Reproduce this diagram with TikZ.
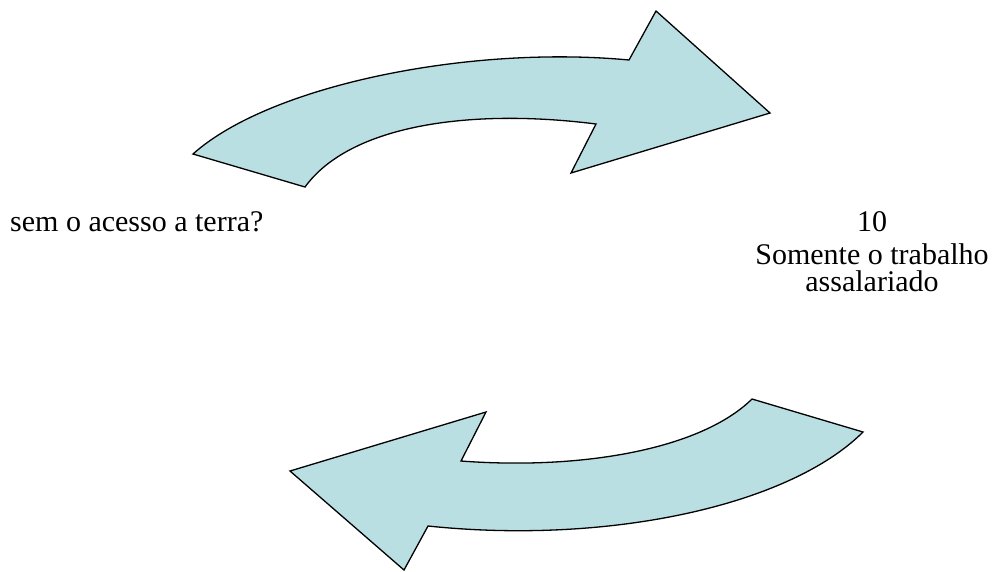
\documentclass[tikz,border=0pt]{standalone}
\usepackage{fontspec}
\setmainfont{Liberation Serif}
\usetikzlibrary{positioning}
\definecolor{arrowfill}{RGB}{186,223,227}

\begin{document}
\begin{tikzpicture}[x=1pt, y=-1pt, font=\fontsize{30}{28}\selectfont,
                    bigarrow/.style={draw=black, fill=arrowfill, line width=1.3pt, line join=miter},
                    label/.style={inner sep=0pt, align=center}]
  \useasboundingbox (0,0) rectangle (992,571);

  % Top arrow, pointing right
  \draw[bigarrow] (193,154) .. controls (270,85) and (470,45) .. (629,60)
    -- (656,11) -- (770,113) -- (571,173) -- (596,124)
    .. controls (470,108) and (350,125) .. (305,187) -- cycle;

  % Bottom arrow, pointing left
  \draw[bigarrow] (752,399) -- (863,432)
    .. controls (790,505) and (610,545) .. (428,526)
    -- (404,570) -- (290,471) -- (486,412) -- (461,461)
    .. controls (580,470) and (700,450) .. (752,399) -- cycle;

  % Texts
  \node[label, anchor=base west] (question) at (10,231) {sem o acesso a terra?};
  \node[label, anchor=base] (ten) at (872,231) {10};
  \node[label, anchor=base] (wage) at (872,264) {Somente o trabalho};
  \node[label, anchor=base] (wage2) at (872,291) {assalariado};
\end{tikzpicture}
\end{document}
